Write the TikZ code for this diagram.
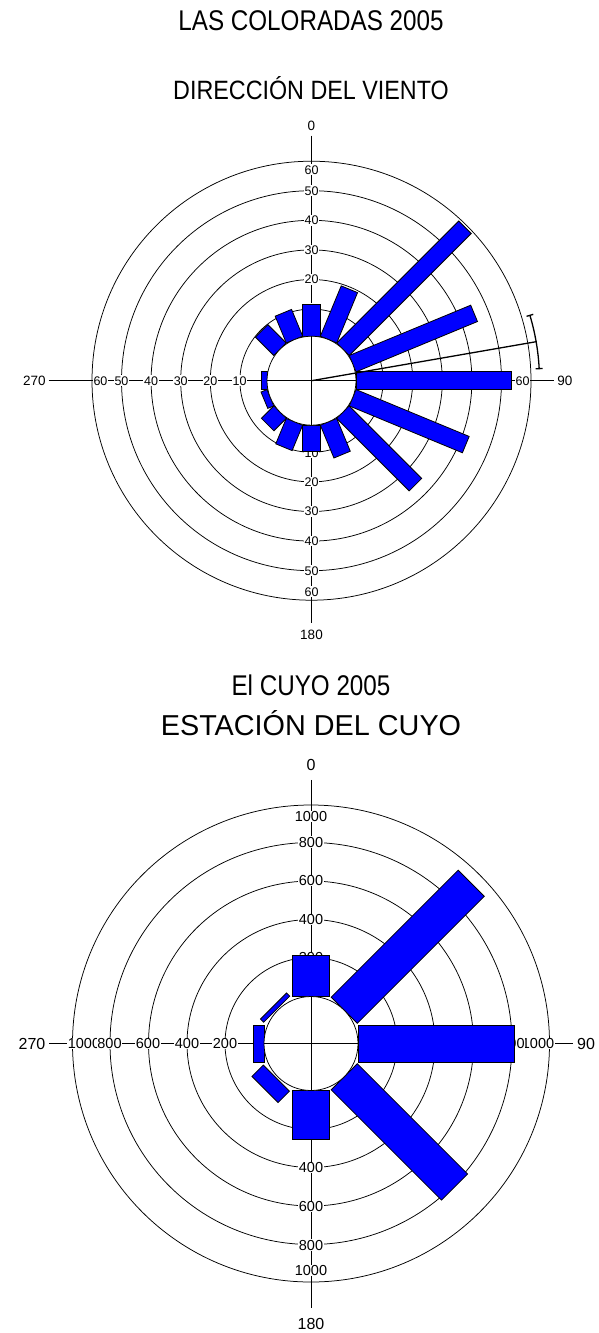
\documentclass[tikz,border=0pt]{standalone}
\usepackage{fontspec}
\usepackage{graphicx}
\setmainfont{Liberation Sans}
\begin{document}
\begin{tikzpicture}[x=1pt,y=1pt,
  ring/.style={line width=0.75pt},
  axisline/.style={line width=0.9pt},
  bar/.style={draw=black, fill=blue, line width=0.8pt},
  toplab/.style={fill=white, inner sep=0.8pt, font=\fontsize{12.5}{13}\selectfont},
  botlab/.style={fill=white, inner sep=0.8pt, font=\fontsize{14.5}{15}\selectfont},
  topdir/.style={inner sep=0pt, font=\fontsize{13.5}{14}\selectfont},
  botdir/.style={inner sep=0pt, font=\fontsize{16}{17}\selectfont},
  titletext/.style={anchor=base, inner sep=0pt},
  meanline/.style={line width=1.3pt}]
\useasboundingbox (0,0) rectangle (598,-1333);

% titles
\node[titletext] (t1) at (311,-30.7) {\fontsize{28.5}{30}\selectfont\scalebox{0.85}[1]{LAS COLORADAS 2005}};
\node[titletext] (t2) at (311,-99) {\fontsize{26.5}{28}\selectfont\scalebox{0.88}[1]{DIRECCIÓN DEL VIENTO}};
\node[titletext] (t3) at (311,-695) {\fontsize{28.5}{30}\selectfont\scalebox{0.85}[1]{El CUYO 2005}};
\node[titletext] (t4) at (311,-735.7) {\fontsize{28.8}{30}\selectfont ESTACIÓN DEL CUYO};

% ---------------- top rose ----------------
\begin{scope}[shift={(311.5,-380.7)}]
  \foreach \r in {71.6,101.2,130.8,160.4,190,219.5}
    \draw[ring] (0,0) circle[radius=\r];
  \draw[axisline] (0,245) -- (0,-242);
  \draw[axisline] (-263,0) -- (242,0);
  \node[topdir] (a0) at (0,254.7) {0};
  \node[topdir] (a180) at (0,-254.3) {180};
  \node[topdir] (a90) at (253.3,0) {90};
  \node[topdir] (a270) at (-277,0) {270};
  \foreach \v/\r in {10/72,20/101.2,30/130.8,40/160.4,50/190,60/211} {
    \node[toplab] (tu\v) at (0,\r) {\v};
    \node[toplab] (td\v) at (0,-\r) {\v};
    \node[toplab] (tl\v) at (-\r,0) {\v};
    \node[toplab] (tr\v) at (\r,0) {\v};
  }
  \foreach \b/\r in {0/76.5,22.5/99,45/217,67.5/176,90/200,112.5/167,135/147,157.5/80,180/71,202.5/72,225/62,247.5/51,270/50.5,315/70.5,337.5/73.5}
    \draw[bar,rotate=90-\b] (44.5,-8.85) rectangle (\r,8.85);
  \fill[white] (0,0) circle[radius=44.5];
  \draw[axisline] (-44.5,0) -- (44.5,0) (0,-44.5) -- (0,44.5);
  \draw[ring] (0,0) circle[radius=44.5];
  \coordinate (tc) at (0,0);
  \coordinate (tm) at (9.85:228.6);
  \draw[meanline] (tc) -- (tm);
  \draw[meanline] (16.66:228) arc[start angle=16.66, end angle=3.03, radius=228];
  \draw[meanline] (16.66:224.5) -- (16.66:231.5) (3.03:224.5) -- (3.03:231.5);
\end{scope}

% ---------------- bottom rose ----------------
\begin{scope}[shift={(311,-1043.5)}]
  \foreach \r in {86,124,162.5,201,238.5}
    \draw[ring] (0,0) circle[radius=\r];
  \draw[axisline] (0,263.7) -- (0,-264.3);
  \draw[axisline] (-262,0) -- (262,0);
  \node[botdir] (b0) at (0,278.7) {0};
  \node[botdir] (b180) at (0,-280.3) {180};
  \node[botdir] (b90) at (275,0) {90};
  \node[botdir] (b270) at (-279,0) {270};
  \foreach \v/\r in {1000/227,800/201.5,600/163,400/124,200/86} {
    \node[botlab] (bu\v) at (0,\r) {\v};
    \node[botlab] (bd\v) at (0,-\r) {\v};
    \node[botlab] (bl\v) at (-\r,0) {\v};
    \node[botlab] (br\v) at (\r,0) {\v};
  }
  \foreach \b/\r/\s in {0/88/47,45/226.6/47,90/203/47,135/203/47,180/96/47,225/65/49,270/58/47,315/53/48.5}
    \draw[bar,rotate=90-\b] (\s,-18.5) rectangle (\r,18.5);
  \fill[white] (0,0) circle[radius=47];
  \draw[axisline] (-47,0) -- (47,0) (0,-47) -- (0,47);
  \draw[ring] (0,0) circle[radius=47];
\end{scope}
\end{tikzpicture}
\end{document}
